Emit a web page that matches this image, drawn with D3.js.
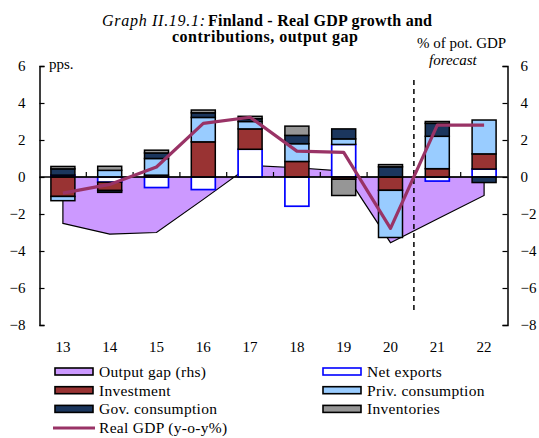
<!DOCTYPE html>
<html>
<head>
<meta charset="utf-8">
<script src="https://cdn.jsdelivr.net/npm/d3@7"></script>
<style>
  body { margin: 0; background: #fff; }
  svg text { font-family: "Liberation Serif", "Times New Roman", serif; fill: #000; }
</style>
</head>
<body>
<div id="chart"></div>
<script>
// Chart data
var years = ["13", "14", "15", "16", "17", "18", "19", "20", "21", "22"];
var netExports = [0.1, -0.28, -0.57, -0.68, 1.5, -1.58, 1.76, 0, -0.22, 0.43];
var investment = [-1.05, -0.45, 0.1, 1.9, 1.1, 0.84, -0.12, -0.72, 0.45, 0.82];
var privCons = [-0.23, 0.36, 0.9, 1.32, 0.4, 0.96, 0.3, -2.55, 1.75, 1.83];
var govCons = [0.34, -0.1, 0.3, 0.25, 0.15, 0.45, 0.54, 0.55, 0.7, -0.3];
var inventories = [0.13, 0.22, 0.15, 0.15, 0.13, 0.5, -0.88, 0.12, 0.1, 0];
var outputGap = [-2.51, -3.09, -3.0, -1.21, 0.62, 0.5, 0.32, -3.55, -2.27, -1.0];
var realGDP = [-0.87, -0.4, 0.54, 2.9, 3.23, 1.4, 1.33, -2.78, 2.8, 2.8];
var yTicks = [-8, -6, -4, -2, 0, 2, 4, 6];

var svgWidth = 539;
var svgHeight = 438;

// plot area in pixels
var plotLeft = 39.5, plotRight = 507.5, plotTop = 66, plotBottom = 325;

var svg = d3.select("#chart")
  .append("svg")
  .attr("width", svgWidth)
  .attr("height", svgHeight);

var x = d3.scaleBand()
  .domain(years)
  .range([plotLeft, plotRight]);

var y = d3.scaleLinear()
  .domain([-8, 6])
  .range([plotBottom, plotTop]);

// table for the stack
var keys = ["net", "inv", "priv", "gov", "stock"];
var table = years.map(function (yr, i) {
  return {year: yr, net: netExports[i], inv: investment[i], priv: privCons[i], gov: govCons[i], stock: inventories[i]};
});

var fills = {net: "#ffffff", inv: "#993333", priv: "#99ccff", gov: "#1b365d", stock: "#969696"};
var strokes = {net: "#0000ff", inv: "#000", priv: "#000", gov: "#000", stock: "#000"};

// output gap area (rhs, same scale)
var area = d3.area()
  .x(function (d, i) { return x(years[i]) + x.bandwidth() / 2; })
  .y0(y(0))
  .y1(function (d) { return y(d); });

svg.append("path")
  .datum(outputGap)
  .attr("d", area)
  .attr("fill", "#cc99ff")
  .attr("stroke", "#000")
  .attr("stroke-width", 1.2);

// stacked bars
var series = d3.stack()
  .keys(keys)
  .offset(d3.stackOffsetDiverging)(table);

var barW = 24;

svg.append("g")
  .selectAll("g")
  .data(series)
  .enter()
  .append("g")
  .attr("fill", function (d) { return fills[d.key]; })
  .attr("stroke", function (d) { return strokes[d.key]; })
  .attr("stroke-width", function (d) { return d.key == "net" ? 1.7 : 1.5; })
  .selectAll("rect")
  .data(function (d) { return d.filter(function (s) { return s[1] != s[0]; }); })
  .enter()
  .append("rect")
  .attr("x", function (d) { return x(d.data.year) + (x.bandwidth() - barW) / 2; })
  .attr("width", barW)
  .attr("y", function (d) { return y(Math.max(d[0], d[1])); })
  .attr("height", function (d) { return Math.abs(y(d[0]) - y(d[1])); });

// zero line with ticks between the years
svg.append("line")
  .attr("x1", plotLeft).attr("x2", plotRight)
  .attr("y1", y(0)).attr("y2", y(0))
  .attr("stroke", "#000")
  .attr("stroke-width", 1.5);

svg.append("g")
  .selectAll("line")
  .data(years.slice(1))
  .enter()
  .append("line")
  .attr("x1", function (d) { return x(d); })
  .attr("x2", function (d) { return x(d); })
  .attr("y1", y(0))
  .attr("y2", y(0) - 5)
  .attr("stroke", "#000")
  .attr("stroke-width", 1.2);

// forecast divider
svg.append("line")
  .attr("x1", x("21")).attr("x2", x("21"))
  .attr("y1", 80).attr("y2", 314)
  .attr("stroke", "#000")
  .attr("stroke-width", 1.5)
  .attr("stroke-dasharray", "5,4");

// Real GDP line
var line = d3.line()
  .x(function (d, i) { return x(years[i]) + x.bandwidth() / 2; })
  .y(function (d) { return y(d); });

svg.append("path")
  .datum(realGDP)
  .attr("d", line)
  .attr("fill", "none")
  .attr("stroke", "#993366")
  .attr("stroke-width", 3.2)
  .attr("stroke-linejoin", "round");

// axes
var leftAxis = d3.axisLeft(y)
  .tickValues(yTicks)
  .tickSize(-5)
  .tickSizeOuter(-5)
  .tickPadding(14);

var rightAxis = d3.axisRight(y)
  .tickValues(yTicks)
  .tickSize(-5)
  .tickSizeOuter(-5)
  .tickPadding(13);

var styleAxis = function (g) {
  g.select(".domain").attr("stroke-width", 1.5);
  g.selectAll(".tick line").attr("stroke-width", 1.2);
  g.selectAll("text").style("font-size", "15px").attr("font-family", null);
};

svg.append("g")
  .attr("transform", `translate(${plotLeft}, 0)`)
  .call(leftAxis)
  .call(styleAxis);

svg.append("g")
  .attr("transform", `translate(${plotRight}, 0)`)
  .call(rightAxis)
  .call(styleAxis);

var bottomAxis = d3.axisBottom(x)
  .tickSize(0)
  .tickPadding(16.5);

svg.append("g")
  .attr("transform", `translate(0, ${plotBottom})`)
  .call(bottomAxis)
  .call(function (g) {
    g.select(".domain").remove();
    g.selectAll("text").style("font-size", "15px").attr("font-family", null);
  });

// titles and axis notes
svg.append("text")
  .attr("x", 102)
  .attr("y", 26)
  .attr("textLength", 103)
  .attr("lengthAdjust", "spacing")
  .style("font-size", "16px")
  .style("font-style", "italic")
  .text("Graph II.19.1:");

svg.append("text")
  .attr("x", 208)
  .attr("y", 26)
  .attr("textLength", 224)
  .attr("lengthAdjust", "spacing")
  .style("font-size", "16px")
  .style("font-weight", "bold")
  .text("Finland - Real GDP growth and");

svg.append("text")
  .attr("x", 172)
  .attr("y", 42)
  .attr("textLength", 186)
  .attr("lengthAdjust", "spacing")
  .style("font-size", "16px")
  .style("font-weight", "bold")
  .text("contributions, output gap");

svg.append("text")
  .attr("x", 417)
  .attr("y", 48)
  .style("font-size", "15px")
  .text("% of pot. GDP");

svg.append("text")
  .attr("x", 429)
  .attr("y", 65)
  .style("font-size", "15px")
  .style("font-style", "italic")
  .text("forecast");

svg.append("text")
  .attr("x", 49)
  .attr("y", 69)
  .style("font-size", "15px")
  .text("pps.");

// legend
var legendItems = [
  {label: "Output gap (rhs)", fill: "#cc99ff", stroke: "#000", col: 0, row: 0},
  {label: "Investment", fill: fills.inv, stroke: "#000", col: 0, row: 1},
  {label: "Gov. consumption", fill: fills.gov, stroke: "#000", col: 0, row: 2},
  {label: "Real GDP (y-o-y%)", line: true, col: 0, row: 3},
  {label: "Net exports", fill: "#fff", stroke: "#0000ff", col: 1, row: 0},
  {label: "Priv. consumption", fill: fills.priv, stroke: "#000", col: 1, row: 1},
  {label: "Inventories", fill: fills.stock, stroke: "#000", col: 1, row: 2}
];

var legend = svg.append("g")
  .selectAll("g")
  .data(legendItems)
  .enter()
  .append("g")
  .attr("transform", function (d) { return `translate(${d.col ? 323 : 55}, ${372 + d.row * 18.7})`; });

legend.filter(function (d) { return !d.line; })
  .append("rect")
  .attr("x", 0).attr("y", -4)
  .attr("width", 38).attr("height", 7)
  .attr("fill", function (d) { return d.fill; })
  .attr("stroke", function (d) { return d.stroke; })
  .attr("stroke-width", 1.6);

legend.filter(function (d) { return d.line; })
  .append("line")
  .attr("x1", -2).attr("x2", 40)
  .attr("y1", 0).attr("y2", 0)
  .attr("stroke", "#993366")
  .attr("stroke-width", 3);

legend.append("text")
  .attr("x", 44)
  .attr("y", 5)
  .style("font-size", "15.5px")
  .style("letter-spacing", "0.3px")
  .text(function (d) { return d.label; });
</script>
</body>
</html>
